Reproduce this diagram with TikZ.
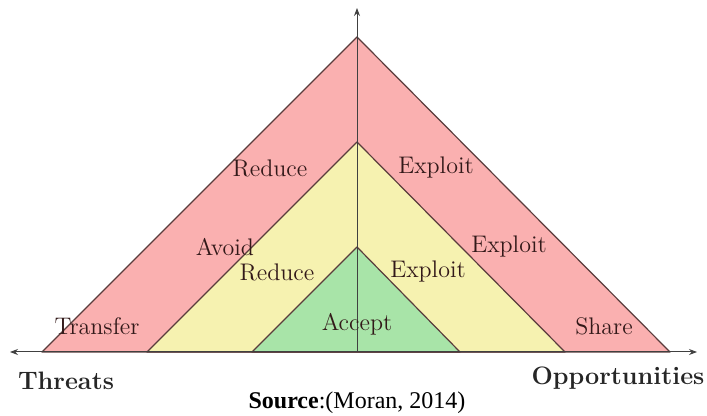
\documentclass[tikz,border=0pt]{standalone}
\usepackage{fontspec}
\newfontfamily\timesfont{Liberation Serif}
\usetikzlibrary{arrows.meta}
\definecolor{zonered}{RGB}{250,176,176}
\definecolor{zoneyellow}{RGB}{246,242,176}
\definecolor{zonegreen}{RGB}{168,228,168}
\definecolor{edge}{RGB}{90,60,60}
\definecolor{ink}{RGB}{50,25,25}
\begin{document}
\begin{tikzpicture}[x=0.5pt,y=-0.5pt,
  zone/.style={draw=edge,line width=0.6pt,line join=round},
  axis/.style={draw=black!75,line width=0.5pt,-{Stealth[length=4pt,width=3pt]}},
  lbl/.style={text=ink,font=\fontsize{12}{14}\selectfont,inner sep=0pt},
  axlbl/.style={text=black!85,font=\bfseries\fontsize{12.6}{15}\selectfont,inner sep=0pt}]
  \useasboundingbox (0,0) rectangle (707,416);
  % axes
  \coordinate (o) at (357,352);
  \coordinate (left) at (10,352);
  \coordinate (right) at (697,352);
  \coordinate (top) at (357,8);
  % triangle vertices
  \coordinate (ra) at (357,37);  \coordinate (rl) at (42,352);  \coordinate (rr) at (670,352);
  \coordinate (ya) at (357,142); \coordinate (yl) at (147,352); \coordinate (yr) at (565,352);
  \coordinate (ga) at (357,247); \coordinate (gl) at (252,352); \coordinate (gr) at (460,352);
  % nested zones
  \path[zone,fill=zonered] (rl) -- (ra) -- (rr) -- cycle;
  \path[zone,fill=zoneyellow] (yl) -- (ya) -- (yr) -- cycle;
  \path[zone,fill=zonegreen] (gl) -- (ga) -- (gr) -- cycle;
  \draw[axis] (o) -- (left);
  \draw[axis] (o) -- (right);
  \draw[axis] (o) -- (top);
  % responses
  \node[lbl] (r1) at (270,168) {Reduce};
  \node[lbl] (e1) at (436,168) {Exploit};
  \node[lbl] (av) at (225,247) {Avoid};
  \node[lbl] (e2) at (509,247) {Exploit};
  \node[lbl] (r2) at (277,272) {Reduce};
  \node[lbl] (e3) at (428,272) {Exploit};
  \node[lbl] (tr) at (97,326) {Transfer};
  \node[lbl] (sh) at (604,326) {Share};
  \node[lbl] (ac) at (357,324) {Accept};
  % axis captions
  \node[axlbl] (th) at (66,381) {Threats};
  \node[axlbl] (op) at (618,378) {Opportunities};
  \node[inner sep=0pt,font=\timesfont\fontsize{12}{14}\selectfont] (src) at (357,403) {\textbf{Source}:(Moran, 2014)};
\end{tikzpicture}
\end{document}
